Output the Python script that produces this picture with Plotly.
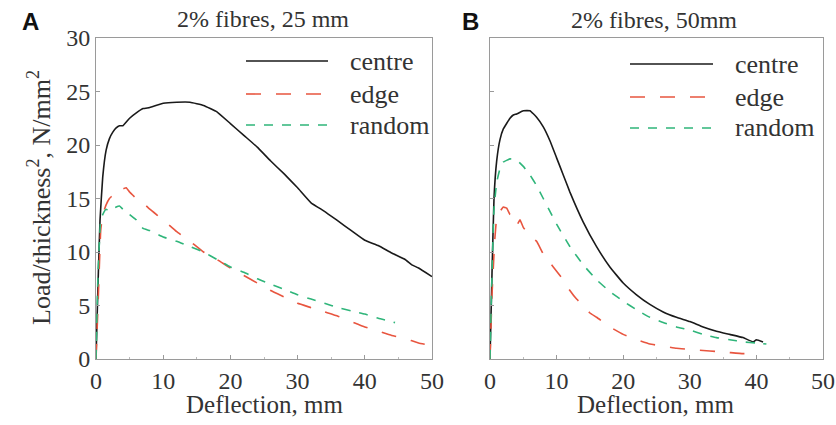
import plotly.graph_objects as go

# ---- Panel A: 2% fibres, 25 mm ----
a_centre_x = [0, 0.3, 0.6, 1, 1.5, 2, 2.5, 3, 3.5, 4, 5, 6, 7, 8, 10, 12, 14, 16, 18, 20, 22, 24, 26, 28, 30, 32, 34, 36, 38, 40, 42, 44, 46, 47, 48, 50]
a_centre_y = [0, 7, 13, 17, 19.5, 20.6, 21.2, 21.6, 21.8, 21.8, 22.5, 23.0, 23.4, 23.5, 23.9, 24.0, 24.0, 23.7, 23.1, 22.0, 20.9, 19.8, 18.5, 17.3, 16.0, 14.6, 13.8, 12.9, 12.0, 11.1, 10.6, 9.9, 9.3, 8.8, 8.5, 7.7]

a_edge_x = [0, 0.3, 0.7, 1, 1.5, 2, 2.5, 3, 4, 4.5, 5, 6, 7, 8, 10, 12, 14, 16, 18, 20, 22, 24, 26, 28, 30, 32, 34, 36, 38, 40, 42, 44, 46, 48, 49.5]
a_edge_y = [0, 5, 12, 13.5, 14.4, 15.0, 15.3, 15.7, 15.9, 16.0, 15.6, 15.0, 14.6, 14.0, 13.0, 11.9, 11.0, 10.0, 9.3, 8.5, 7.8, 7.1, 6.4, 5.8, 5.2, 4.8, 4.4, 4.0, 3.5, 3.0, 2.6, 2.2, 1.9, 1.5, 1.3]

a_random_x = [0, 0.3, 0.7, 1, 1.5, 2, 3, 3.5, 4, 5, 6, 7, 8, 10, 12, 14, 16, 18, 20, 22, 24, 26, 28, 30, 32, 34, 36, 38, 40, 42, 44, 44.5]
a_random_y = [0, 8, 13, 13.5, 14.0, 13.8, 14.2, 14.3, 14.0, 13.5, 13.0, 12.2, 12.0, 11.4, 11.0, 10.5, 10.0, 9.3, 8.6, 8.1, 7.5, 7.0, 6.5, 6.0, 5.6, 5.2, 4.8, 4.5, 4.2, 3.8, 3.5, 3.4]

# ---- Panel B: 2% fibres, 50mm ----
b_centre_x = [0, 0.3, 0.6, 1, 1.5, 2, 3, 3.5, 4, 5, 6, 7, 8, 9, 10, 11, 12, 14, 16, 18, 20, 22, 24, 26, 28, 30, 32, 34, 36, 38, 39.5, 40, 41]
b_centre_y = [0, 8, 15, 18.5, 20.5, 21.5, 22.5, 22.8, 22.9, 23.2, 23.2, 22.6, 21.7, 20.4, 18.8, 17.2, 15.6, 12.8, 10.5, 8.6, 7.1, 6.0, 5.1, 4.4, 3.9, 3.5, 3.0, 2.6, 2.3, 2.0, 1.6, 1.8, 1.6]

b_edge_x = [0, 0.3, 0.7, 1, 1.2, 2, 2.5, 3, 3.5, 4, 4.5, 5, 6, 7, 8, 9, 10, 11, 12, 13, 14, 15, 16, 18, 20, 22, 24, 26, 28, 30, 32, 34, 36, 38, 39]
b_edge_y = [0, 6, 11, 13.2, 13.5, 14.2, 14.1, 13.5, 13.3, 12.5, 13.0, 12.3, 11.5, 11.0, 9.8, 9.0, 8.2, 7.4, 6.4, 5.6, 5.0, 4.3, 3.9, 3.0, 2.3, 1.8, 1.4, 1.2, 1.0, 0.9, 0.8, 0.7, 0.6, 0.5, 0.5]

b_random_x = [0, 0.3, 0.6, 1, 1.5, 2, 3, 4, 5, 6, 7, 8, 9, 10, 12, 14, 16, 18, 20, 22, 24, 26, 28, 30, 32, 34, 36, 38, 40, 41.5]
b_random_y = [0, 8, 14, 16.5, 17.8, 18.4, 18.7, 18.6, 18.0, 17.2, 16.2, 15.0, 13.8, 12.6, 10.5, 8.8, 7.4, 6.3, 5.4, 4.6, 3.9, 3.4, 3.0, 2.7, 2.3, 2.0, 1.8, 1.6, 1.5, 1.4]

series_names = ["centre", "edge", "random"]
colors = {"centre": "#1a1a1a", "edge": "#e8553f", "random": "#2fb57a"}
dashes = {"centre": "solid", "edge": "longdash", "random": "dash"}

x_ticks = [0, 10, 20, 30, 40, 50]
y_ticks = [0, 5, 10, 15, 20, 25, 30]

FONT = "Liberation Serif, Times New Roman, serif"
W, H = 836, 425

fig = go.Figure()

panels = [
    ("x", "y", {"centre": (a_centre_x, a_centre_y), "edge": (a_edge_x, a_edge_y), "random": (a_random_x, a_random_y)}),
    ("x2", "y2", {"centre": (b_centre_x, b_centre_y), "edge": (b_edge_x, b_edge_y), "random": (b_random_x, b_random_y)}),
]
for xa, ya, data in panels:
    for name in series_names:
        xs, ys = data[name]
        fig.add_trace(go.Scatter(
            x=xs, y=ys, mode="lines", name=name, showlegend=False,
            xaxis=xa, yaxis=ya,
            line=dict(color=colors[name], width=1.6, dash=dashes[name], shape="spline", smoothing=0.3),
        ))

def px_x(p):
    return p / W

def px_y(p):
    return 1 - p / H

axis_common = dict(
    range=[0, 50], showline=True, linecolor="#9a9a9a", linewidth=1, mirror=True, automargin=False,
    ticks="inside", ticklen=4, tickcolor="#9a9a9a", showgrid=False, zeroline=False,
    tickfont=dict(family=FONT, size=24, color="#333333"),
    minor=dict(ticks="inside", ticklen=2, tickcolor="#bbbbbb", dtick=5),
)
yaxis_common = dict(
    range=[0, 30], showline=True, linecolor="#9a9a9a", linewidth=1, mirror=True, automargin=False,
    ticks="inside", ticklen=4, tickcolor="#9a9a9a", showgrid=False, zeroline=False,
    tickfont=dict(family=FONT, size=24, color="#333333"),
    tickvals=y_ticks,
)

fig.update_layout(
    width=W, height=H, margin=dict(l=0, r=0, t=0, b=0, autoexpand=False),
    paper_bgcolor="white", plot_bgcolor="white", showlegend=False,
    xaxis=dict(domain=[px_x(96), px_x(432)], tickvals=x_ticks, anchor="y", ticklabelstandoff=0, **axis_common),
    yaxis=dict(domain=[px_y(359), px_y(38)], anchor="x", **yaxis_common),
    xaxis2=dict(domain=[px_x(490), px_x(823)], tickvals=x_ticks, anchor="y2", ticklabelstandoff=0, **axis_common),
    yaxis2=dict(domain=[px_y(359), px_y(38)], anchor="x2", showticklabels=False, **yaxis_common),
)

ann = []

def add_text(text, x, y, size, family=FONT, color="#333", xanchor="center", angle=0):
    ann.append(dict(text=text, x=px_x(x), y=px_y(y), xref="paper", yref="paper", showarrow=False,
                    xanchor=xanchor, yanchor="middle", textangle=angle,
                    font=dict(family=family, size=size, color=color)))

# panel letters
add_text("<b>A</b>", 30, 21, 24, family="Liberation Sans, Arial, sans-serif", color="#111")
add_text("<b>B</b>", 470, 22, 24, family="Liberation Sans, Arial, sans-serif", color="#111")
# titles
add_text("2% fibres, 25 mm", 263, 19, 24)
add_text("2% fibres, 50mm", 654, 20, 24)
# x titles
add_text("Deflection, mm", 264, 404, 25)
add_text("Deflection, mm", 655, 404, 25)
# y title
add_text("Load/thickness<sup>2</sup>, N/mm<sup>2</sup>", 40, 198, 26, angle=-90)

shapes = []
legend_pos = [((246, 328), 348, (61, 94, 125)), ((630, 713), 733, (64, 97, 128))]
for (lx0, lx1), tx, ys in legend_pos:
    for name, yy in zip(series_names, ys):
        shapes.append(dict(type="line", xref="paper", yref="paper", x0=px_x(lx0), x1=px_x(lx1),
                           y0=px_y(yy), y1=px_y(yy), line=dict(color=colors[name], width=1.6, dash=dashes[name])))
        add_text(name, tx, yy, 26, xanchor="left")

fig.update_layout(annotations=ann, shapes=shapes)
fig.write_html("out.html")
